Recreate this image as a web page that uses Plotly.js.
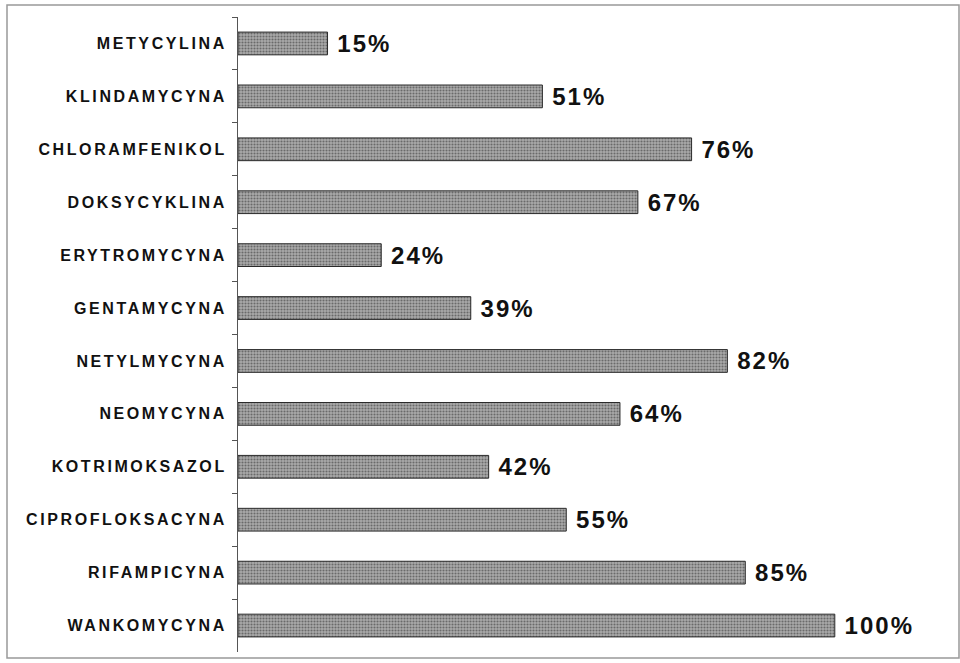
<!DOCTYPE html>
<html><head><meta charset="utf-8">
<script src="https://cdn.plot.ly/plotly-3.0.1.min.js"></script>
<style>
html,body{margin:0;padding:0;background:#fff;}
#chart{width:960px;height:663px;}
.ytick text{letter-spacing:2.6px;}
text.bartext{letter-spacing:2px;}
</style></head><body><div id="chart"></div>
<script>
const categories = ["METYCYLINA","KLINDAMYCYNA","CHLORAMFENIKOL","DOKSYCYKLINA","ERYTROMYCYNA","GENTAMYCYNA","NETYLMYCYNA","NEOMYCYNA","KOTRIMOKSAZOL","CIPROFLOKSACYNA","RIFAMPICYNA","WANKOMYCYNA"];
const values = [15,51,76,67,24,39,82,64,42,55,85,100];
const valueLabels = values.map(v => v + "%");

const trace = {
  type: "bar",
  orientation: "h",
  y: categories,
  x: values,
  text: valueLabels,
  textposition: "outside",
  texttemplate: "\u2009%{text}",
  constraintext: "none",
  cliponaxis: false,
  textfont: {family: "Arial, 'Liberation Sans', sans-serif", size: 24, color: "#111", weight: "bold"},
  marker: {
    color: "#a2a2a2",
    line: {color: "#2a2a2a", width: 1},
    pattern: {shape: ".", size: 3, solidity: 0.4, fgcolor: "#6a6a6a", bgcolor: "#aaaaaa", fillmode: "replace"}
  },
  hoverinfo: "none"
};

const L = 238, R = 10, T = 17, B = 11, W = 960, H = 663;
const pw = W - L - R, ph = H - T - B;

const layout = {
  width: W, height: H,
  margin: {l: L, r: R, t: T, b: B, pad: 0},
  paper_bgcolor: "#fff", plot_bgcolor: "#fff",
  showlegend: false,
  bargap: 0.57,
  xaxis: {range: [0, 119.3], visible: false, fixedrange: true},
  yaxis: {
    type: "category",
    categoryorder: "array", categoryarray: categories,
    autorange: "reversed",
    showline: true, linecolor: "#555", linewidth: 1,
    ticks: "outside", ticklen: 5, tickcolor: "#555", tickwidth: 1,
    tickson: "boundaries",
    showgrid: false, zeroline: false,
    tickfont: {family: "Arial, 'Liberation Sans', sans-serif", size: 16, color: "#111", weight: "bold"},
    ticklabelstandoff: 7,
    fixedrange: true
  },
  shapes: [{
    type: "rect", xref: "paper", yref: "paper",
    x0: (7 - L) / pw, x1: (959 - L) / pw,
    y0: -(658 - (H - B)) / ph, y1: 1 + (T - 5) / ph,
    line: {color: "#999", width: 1.5}, fillcolor: "rgba(0,0,0,0)", layer: "below"
  }]
};

Plotly.newPlot("chart", [trace], layout, {displayModeBar: false, staticPlot: true});
</script></body></html>
